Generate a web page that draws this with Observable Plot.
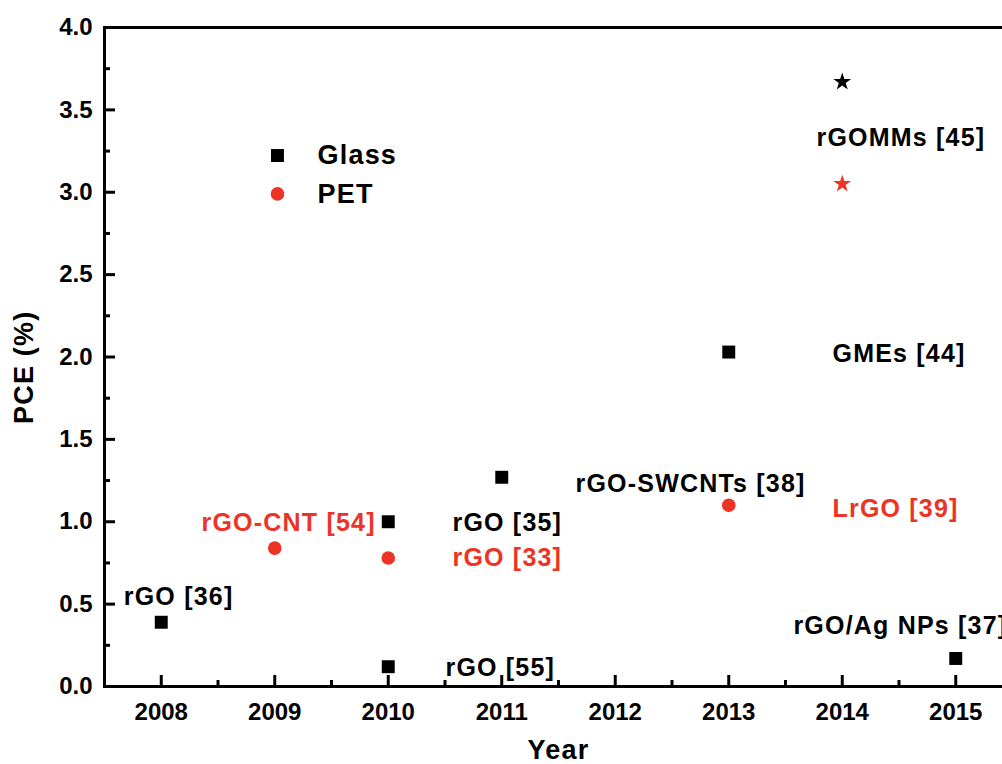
<!DOCTYPE html>
<html>
<head>
<meta charset="utf-8">
<script src="https://cdn.jsdelivr.net/npm/d3@7"></script>
<script src="https://cdn.jsdelivr.net/npm/@observablehq/plot@0.6"></script>
<style>
  html, body { margin: 0; padding: 0; background: white; overflow: hidden; }
  #chart svg { overflow: visible; }
</style>
</head>
<body>
<div id="chart"></div>
<script>
// ---- data ----
const yearTicks = [2008, 2009, 2010, 2011, 2012, 2013, 2014, 2015];
const yearMinor = [2008.5, 2009.5, 2010.5, 2011.5, 2012.5, 2013.5, 2014.5];
const pceTicks = [0, 0.5, 1, 1.5, 2, 2.5, 3, 3.5, 4];
const pceMinor = [0.25, 0.75, 1.25, 1.75, 2.25, 2.75, 3.25, 3.75];

const glassYear = [2008, 2010, 2010, 2011, 2013, 2015];
const glassPCE  = [0.39, 0.12, 1.00, 1.27, 2.03, 0.17];
const petYear   = [2009, 2010, 2013];
const petPCE    = [0.84, 0.78, 1.10];
const starYear  = [2014, 2014];
const starPCE   = [3.67, 3.05];
const starSubstrate = ["Glass", "PET"];

const labelText = ["rGO [36]", "rGO-CNT [54]", "rGO [35]", "rGO [33]", "rGO [55]",
  "rGO-SWCNTs [38]", "LrGO [39]", "GMEs [44]", "rGOMMs [45]", "rGO/Ag NPs [37]"];
const labelSubstrate = ["Glass", "PET", "Glass", "PET", "Glass",
  "Glass", "PET", "Glass", "Glass", "Glass"];
const labelYear = [2007.67, 2008.355, 2010.566, 2010.566, 2010.504,
  2011.65, 2013.914, 2013.914, 2013.773, 2013.57];
const labelPCE = [0.546, 0.995, 0.995, 0.777, 0.115,
  1.232, 1.08, 2.021, 3.332, 0.37];

const legendNames = ["Glass", "PET"];
const legendYear = [2009.024, 2009.024];
const legendTextYear = [2009.377, 2009.377];
const legendPCE = [3.223, 2.99];

const RED = "#ec3326";
const colorOf = s => s === "PET" ? RED : "black";

const glass = glassYear.map((y, i) => ({year: y, pce: glassPCE[i]}));
const pet = petYear.map((y, i) => ({year: y, pce: petPCE[i]}));
const stars = starYear.map((y, i) => ({year: y, pce: starPCE[i], sub: starSubstrate[i]}));
const labels = labelText.map((t, i) => ({text: t, year: labelYear[i], pce: labelPCE[i], sub: labelSubstrate[i]}));
const legend = legendNames.map((n, i) => ({name: n, year: legendYear[i], tyear: legendTextYear[i], pce: legendPCE[i]}));

const W = 1002, H = 764, ML = 104, MR = -10, MT = 27, MB = 78;
const plotW = W - ML - MR, plotH = H - MT - MB;
const FONT = "'Liberation Sans', Arial, Helvetica, sans-serif";

const chart = Plot.plot({
  width: W, height: H,
  marginLeft: ML, marginRight: MR, marginTop: MT, marginBottom: MB,
  style: {fontFamily: FONT, background: "white", color: "black", overflow: "visible"},
  x: {domain: [2007.5, 2015.5], label: null},
  y: {domain: [0, 4], label: null},
  marks: [
    Plot.axisX({ticks: yearTicks, tickFormat: d => String(d), tickSize: 0, tickPadding: 16,
      fontSize: 24, fontWeight: "bold", label: null}),
    Plot.axisY({ticks: pceTicks, tickFormat: d => d.toFixed(1), tickSize: 0, tickPadding: 12,
      fontSize: 24, fontWeight: "bold", label: null}),
    Plot.text(["Year"], {frameAnchor: "bottom", dy: 53, lineAnchor: "top", fontSize: 27, fontWeight: "bold"}),
    Plot.text(["PCE (%)"], {frameAnchor: "left", dx: -80, dy: 67, rotate: -90, fontSize: 27, fontWeight: "bold"}),
    // annotations
    Plot.text(labels, {x: "year", y: "pce", text: "text", fill: d => colorOf(d.sub),
      textAnchor: "start", fontSize: 25, fontWeight: "bold"}),
    // legend
    Plot.dot(legend.filter(d => d.name === "Glass"), {x: "year", y: "pce", symbol: "square", r: 7.3, fill: "black", stroke: "none"}),
    Plot.dot(legend.filter(d => d.name === "PET"), {x: "year", y: "pce", symbol: "circle", r: 6.8, fill: RED, stroke: "none"}),
    Plot.text(legend, {x: "tyear", y: "pce", text: "name", textAnchor: "start", fontSize: 27, fontWeight: "bold"}),
    // data
    Plot.dot(glass, {x: "year", y: "pce", symbol: "square", r: 7.3, fill: "black", stroke: "none"}),
    Plot.dot(pet, {x: "year", y: "pce", symbol: "circle", r: 6.8, fill: RED, stroke: "none"}),
    Plot.dot(stars.filter(d => d.sub === "Glass"), {x: "year", y: "pce", symbol: "star", r: 5.6, fill: "black", stroke: "none"}),
    Plot.dot(stars.filter(d => d.sub === "PET"), {x: "year", y: "pce", symbol: "star", r: 5.6, fill: RED, stroke: "none"}),
    // inward ticks
    Plot.tickX(yearTicks, {x: d => d, insetTop: plotH - 11, stroke: "black", strokeWidth: 3}),
    Plot.tickX(yearMinor, {x: d => d, insetTop: plotH - 6, stroke: "black", strokeWidth: 3}),
    Plot.tickY(pceTicks, {y: d => d, insetRight: plotW - 11, stroke: "black", strokeWidth: 3}),
    Plot.tickY(pceMinor, {y: d => d, insetRight: plotW - 6, stroke: "black", strokeWidth: 3}),
    Plot.frame({stroke: "black", strokeWidth: 3})
  ]
});
d3.select(chart).selectAll('g[aria-label="text"] text').style("letter-spacing", "1.2px");
document.getElementById("chart").appendChild(chart);
</script>
</body>
</html>
